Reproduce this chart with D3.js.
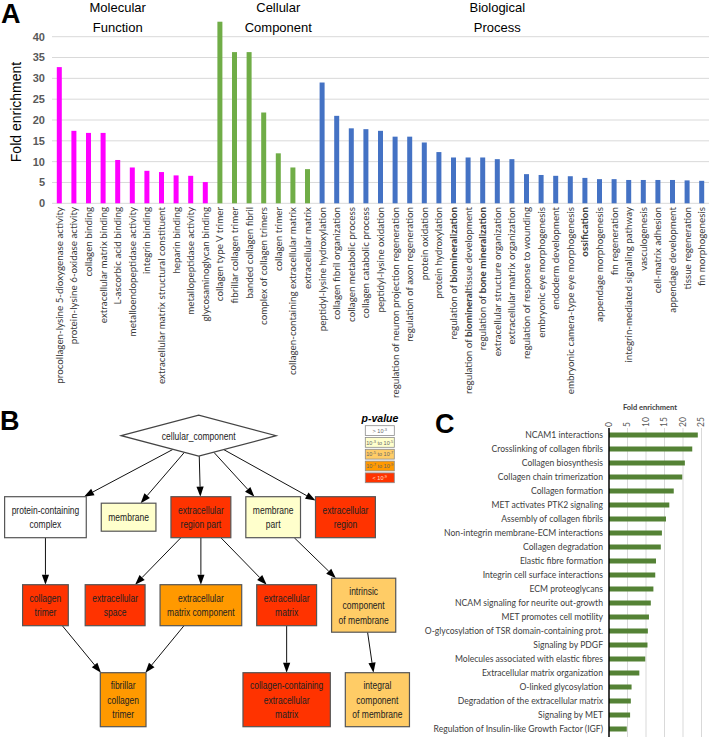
<!DOCTYPE html>
<html>
<head>
<meta charset="utf-8">
<script src="https://cdn.jsdelivr.net/npm/d3@7"></script>
<style>
  body { margin: 0; background: #fff; }
  svg { display: block; }
</style>
</head>
<body>
<svg id="chart" width="709" height="737"></svg>
<script>
// ---------- panel A : GO fold enrichment ----------
const mfTerms = ["procollagen-lysine 5-dioxygenase activity", "protein-lysine 6-oxidase activity", "collagen binding",
  "extracellular matrix binding", "L-ascorbic acid binding", "metalloendopeptidase activity", "integrin binding",
  "extracellular matrix structural constituent", "heparin binding", "metallopeptidase activity", "glycosaminoglycan binding"];
const mfValues = [32.7, 17.4, 16.9, 16.9, 10.4, 8.6, 7.8, 7.5, 6.7, 6.6, 5.1];

const ccTerms = ["collagen type V trimer", "fibrillar collagen trimer", "banded collagen fibril", "complex of collagen trimers",
  "collagen trimer", "collagen-containing extracellular matrix", "extracellular matrix"];
const ccValues = [43.6, 36.3, 36.3, 21.8, 12.0, 8.6, 8.2];

// **x** marks bold text
const bpTerms = ["peptidyl-lysine hydroxylation", "collagen fibril organization", "collagen metabolic process",
  "collagen catabolic process", "peptidyl-lysine oxidation", "regulation of neuron projection regeneration",
  "regulation of axon regeneration", "protein oxidation", "protein hydroxylation", "regulation of **biomineralization**",
  "regulation of **biomineral**tissue development", "regulation of **bone mineralization**",
  "extracellular structure organization", "extracellular matrix organization", "regulation of response to wounding",
  "embryonic eye morphogenesis", "endoderm development", "embryonic camera-type eye morphogenesis", "**ossification**",
  "appendage morphogenesis", "fin regeneration", "integrin-mediated signaling pathway", "vasculogenesis",
  "cell-matrix adhesion", "appendage development", "tissue regeneration", "fin morphogenesis"];
const bpValues = [29.0, 21.0, 18.0, 17.8, 17.4, 16.0, 16.0, 14.6, 12.3, 11.0, 11.0, 11.0, 10.6, 10.6,
  7.0, 6.8, 6.6, 6.5, 6.1, 5.8, 5.8, 5.6, 5.6, 5.6, 5.6, 5.5, 5.4];

const yTicksA = [0, 5, 10, 15, 20, 25, 30, 35, 40];

// ---------- panel B : GO cellular component graph ----------
const pClasses = ["> 10^-3", "10^-3 to 10^-5", "10^-5 to 10^-7", "10^-7 to 10^-9", "< 10^-9"];
const goNodes = [
  {id: "cc", label: ["cellular_component"], p: -1},
  {id: "pcc", label: ["protein-containing", "complex"], p: 0},
  {id: "mem", label: ["membrane"], p: 1},
  {id: "erp", label: ["extracellular", "region part"], p: 4},
  {id: "mp", label: ["membrane", "part"], p: 1},
  {id: "er", label: ["extracellular", "region"], p: 4},
  {id: "ct", label: ["collagen", "trimer"], p: 4},
  {id: "es", label: ["extracellular", "space"], p: 4},
  {id: "emc", label: ["extracellular", "matrix component"], p: 3},
  {id: "em", label: ["extracellular", "matrix"], p: 4},
  {id: "icm", label: ["intrinsic", "component", "of membrane"], p: 2},
  {id: "fct", label: ["fibrillar", "collagen", "trimer"], p: 3},
  {id: "cce", label: ["collagen-containing", "extracellular", "matrix"], p: 4},
  {id: "integ", label: ["integral", "component", "of membrane"], p: 2}
];
const goEdges = [["cc", "pcc"], ["cc", "mem"], ["cc", "erp"], ["cc", "mp"], ["cc", "er"],
  ["pcc", "ct"], ["erp", "es"], ["erp", "emc"], ["erp", "em"], ["mp", "icm"],
  ["ct", "fct"], ["emc", "fct"], ["em", "cce"], ["icm", "integ"]];
const goRanks = [["cc"], ["pcc", "mem", "erp", "mp", "er"], ["ct", "es", "emc", "em", "icm"], ["fct", "cce", "integ"]];

// ---------- panel C : Reactome pathways ----------
const reactomeTerms = ["NCAM1 interactions", "Crosslinking of collagen fibrils", "Collagen biosynthesis",
  "Collagen chain trimerization", "Collagen formation", "MET activates PTK2 signaling", "Assembly of collagen fibrils",
  "Non-integrin membrane-ECM interactions", "Collagen degradation", "Elastic fibre formation",
  "Integrin cell surface interactions", "ECM proteoglycans", "NCAM signaling for neurite out-growth",
  "MET promotes cell motility", "O-glycosylation of TSR domain-containing prot.", "Signaling by PDGF",
  "Molecules associated with elastic fibres", "Extracellular matrix organization", "O-linked glycosylation",
  "Degradation of the extracellular matrix", "Signaling by MET", "Regulation of Insulin-like Growth Factor (IGF)"];
const reactomeValues = [24.0, 22.5, 20.5, 19.8, 17.5, 16.3, 15.4, 14.3, 14.0, 12.7, 12.5, 12.0, 11.3, 10.8,
  10.5, 10.4, 9.8, 8.2, 6.1, 5.9, 5.7, 4.8];
const xTicksC = [0, 5, 10, 15, 20, 25];

// ---------- drawing ----------
const svg = d3.select("#chart");
const sans = "'Liberation Sans', Arial, sans-serif";
const soft = "Lato, 'Open Sans', sans-serif";
const squeeze = 0.74;   // narrow look of the graphviz font
const pColors = ["#ffffff", "#ffffcc", "#ffcc66", "#ff9900", "#ff3300"];

function panelLetter(t, x, y) {
  svg.append("text").attr("x", x).attr("y", y).text(t)
    .style("font", `bold 27px ${sans}`).attr("fill", "#000");
}

// ===== A =====
const groupsA = [
  {title: ["Molecular", "Function"], terms: mfTerms, values: mfValues, color: "#ff00ff", titleAt: 4},
  {title: ["Cellular", "Component"], terms: ccTerms, values: ccValues, color: "#70ad47", titleAt: 4},
  {title: ["Biological", "Process"], terms: bpTerms, values: bpValues, color: "#4472c4", titleAt: 12}
];
const barsA = [];
groupsA.forEach(g => {
  g.start = barsA.length;
  g.terms.forEach((t, i) => barsA.push({term: t, value: g.values[i], color: g.color}));
});

const xA = d3.scaleBand().domain(d3.range(barsA.length)).range([52, 709]);
const yA = d3.scaleLinear().domain([0, 40]).range([203.3, 36.7]);
const cx = i => xA(i) + xA.bandwidth() / 2;

const gA = svg.append("g");
gA.selectAll("line.grid").data(yTicksA).join("line")
  .attr("x1", 52).attr("x2", 709)
  .attr("y1", d => yA(d)).attr("y2", d => yA(d))
  .attr("stroke", "#d9d9d9").attr("stroke-width", 1);

gA.selectAll("text.ytick").data(yTicksA).join("text")
  .attr("x", 45).attr("y", d => yA(d)).attr("dy", "0.35em")
  .attr("text-anchor", "end").attr("fill", "#595959")
  .style("font", `bold 11px ${sans}`).text(d => d);

gA.append("text").attr("transform", "translate(21,112) rotate(-90)")
  .attr("text-anchor", "middle").style("font", `14px ${sans}`).text("Fold enrichment");

gA.selectAll("rect").data(barsA).join("rect")
  .attr("x", (d, i) => cx(i) - 2.5).attr("width", 5)
  .attr("y", d => yA(d.value)).attr("height", d => yA(0) - yA(d.value))
  .attr("fill", d => d.color);

const xl = gA.selectAll("text.xl").data(barsA).join("text")
  .attr("transform", (d, i) => `translate(${cx(i)},207) rotate(-90)`)
  .attr("text-anchor", "end").attr("dy", "0.35em")
  .attr("fill", "#3a3a3a").style("font", `9.8px ${soft}`);
xl.each(function (d) {
  const parts = d.term.split("**");
  parts.forEach((p, k) => {
    if (!p) return;
    d3.select(this).append("tspan").text(p).attr("font-weight", k % 2 ? "bold" : null);
  });
});

groupsA.forEach(g => {
  const x = cx(g.start + g.titleAt);
  g.title.forEach((t, k) => {
    gA.append("text").attr("x", x).attr("y", k ? 32 : 11.5)
      .attr("text-anchor", "middle").style("font", `13px ${sans}`).text(t);
  });
});
panelLetter("A", 1, 23);

// ===== B =====
const gB = svg.append("g");
const meas = gB.append("text").style("font", `11.5px ${sans}`);
const tw = s => meas.text(s).node().getComputedTextLength() * squeeze;
const nodes = goNodes.map(n => Object.assign({}, n));
const byId = new Map(nodes.map(n => [n.id, n]));
nodes.forEach(n => {
  const w = d3.max(n.label, tw);
  if (n.p < 0) { n.w = w * 2.1; n.h = 41; }
  else { n.w = w + 14; n.h = n.label.length * 13 + 15; }
  n.parents = goEdges.filter(e => e[1] === n.id).map(e => e[0]);
  n.children = goEdges.filter(e => e[0] === n.id).map(e => e[1]);
});
meas.remove();

// rank layout: ranks stacked with a fixed gap, siblings packed side by side under their parents
const rankGap = 40.5, nodeGap = 15;
let prevBottom = null;
goRanks.forEach((rank, r) => {
  const rn = rank.map(id => byId.get(id));
  const maxH = d3.max(rn, n => n.h);
  const cy = r === 0 ? 435.7 : prevBottom + rankGap + maxH / 2;
  rn.forEach(n => n.y = cy);
  prevBottom = cy + maxH / 2;
  if (r === 0) { rn.forEach(n => n.x = 190); return; }
  const blocks = [];
  rn.forEach(n => {
    const key = n.parents.join(",");
    const last = blocks[blocks.length - 1];
    if (last && last.key === key) last.items.push(n); else blocks.push({key, items: [n]});
  });
  let right = -Infinity;
  blocks.forEach(b => {
    const total = d3.sum(b.items, n => n.w) + nodeGap * (b.items.length - 1);
    const want = d3.mean(b.items[0].parents, p => byId.get(p).x);
    let left = Math.max(want - total / 2, right + nodeGap);
    b.items.forEach(n => { n.x = left + n.w / 2; left += n.w + nodeGap; });
    right = left - nodeGap;
  });
});
const root = byId.get("cc");
root.x = d3.mean(root.children, c => byId.get(c).x);

function clip(n, ux, uy) {
  if (n.p < 0) return 1 / (Math.abs(ux) / (n.w / 2) + Math.abs(uy) / (n.h / 2));
  return Math.min(Math.abs(ux) > 1e-6 ? (n.w / 2) / Math.abs(ux) : Infinity,
                  Math.abs(uy) > 1e-6 ? (n.h / 2) / Math.abs(uy) : Infinity);
}
goEdges.forEach(([a, b]) => {
  const s = byId.get(a), t = byId.get(b);
  const dx = t.x - s.x, dy = t.y - s.y, len = Math.hypot(dx, dy);
  const ux = dx / len, uy = dy / len;
  const cs = clip(s, ux, uy), ct = clip(t, ux, uy);
  const x0 = s.x + ux * cs, y0 = s.y + uy * cs;
  const tx = t.x - ux * ct, ty = t.y - uy * ct;
  const bx = tx - ux * 10, by = ty - uy * 10;
  gB.append("line").attr("x1", x0).attr("y1", y0).attr("x2", bx).attr("y2", by)
    .attr("stroke", "#111").attr("stroke-width", 1);
  gB.append("path")
    .attr("d", `M${tx},${ty}L${bx - uy * 3.6},${by + ux * 3.6}L${bx + uy * 3.6},${by - ux * 3.6}Z`)
    .attr("fill", "#000");
});

const nodeG = gB.selectAll("g.node").data(nodes).join("g")
  .attr("transform", d => `translate(${d.x},${d.y})`);
nodeG.filter(d => d.p < 0).append("path")
  .attr("d", d => `M${-d.w / 2},0L0,${-d.h / 2}L${d.w / 2},0L0,${d.h / 2}Z`)
  .attr("fill", "#fff").attr("stroke", "#444").attr("stroke-width", 1.2);
nodeG.filter(d => d.p >= 0).append("rect")
  .attr("x", d => -d.w / 2).attr("y", d => -d.h / 2)
  .attr("width", d => d.w).attr("height", d => d.h)
  .attr("fill", d => pColors[d.p]).attr("stroke", "#555").attr("stroke-width", 1.2);
nodeG.each(function (d) {
  const L = d.label.length;
  d3.select(this).selectAll("text").data(d.label).join("text")
    .attr("transform", (t, i) => `translate(0,${(i - (L - 1) / 2) * 14.3}) scale(${squeeze},1)`)
    .attr("dy", "0.35em")
    .attr("text-anchor", "middle").attr("fill", "#222")
    .style("font", `11.5px ${sans}`).text(t => t);
});

// p-value legend
const gL = gB.append("g");
gL.append("text").attr("x", 380).attr("y", 421.5).attr("text-anchor", "middle")
  .style("font", `italic bold 10.5px ${sans}`).text("p-value");
pClasses.forEach((c, i) => {
  const y = 425.7 + i * 11.8;
  gL.append("rect").attr("x", 365.3).attr("y", y).attr("width", 29).attr("height", 9.8)
    .attr("fill", pColors[i]).attr("stroke", "#8c8c8c").attr("stroke-width", 0.8);
  const t = gL.append("text").attr("x", 379.8).attr("y", y + 7)
    .attr("text-anchor", "middle").attr("fill", i === 4 ? "#ffe0d0" : "#666")
    .style("font", `5.5px ${sans}`);
  c.split(/\^(-?\d+)/).forEach((p, k) => {
    if (!p) return;
    if (k % 2) t.append("tspan").attr("dy", -2).attr("font-size", 4).text(p);
    else t.append("tspan").attr("dy", k ? 2 : 0).text(p);
  });
});
panelLetter("B", 0, 430);

// ===== C =====
const gC = svg.append("g");
const xC = d3.scaleLinear().domain([0, 25]).range([609, 701.5]);
const yC = d3.scaleBand().domain(reactomeTerms).range([428, 736]);

gC.selectAll("line.grid").data(xTicksC.slice(1)).join("line")
  .attr("x1", d => xC(d)).attr("x2", d => xC(d)).attr("y1", 428).attr("y2", 737)
  .attr("stroke", "#d9d9d9").attr("stroke-width", 1);
gC.selectAll("rect").data(reactomeTerms).join("rect")
  .attr("x", xC(0)).attr("width", (d, i) => xC(reactomeValues[i]) - xC(0))
  .attr("y", d => yC(d) + yC.bandwidth() / 2 - 2.5).attr("height", 5)
  .attr("fill", "#548235");
gC.append("line").attr("x1", xC(0)).attr("x2", xC(0)).attr("y1", 428).attr("y2", 737)
  .attr("stroke", "#000").attr("stroke-width", 1.5);
gC.selectAll("text.lab").data(reactomeTerms).join("text")
  .attr("x", 603).attr("y", d => yC(d) + yC.bandwidth() / 2).attr("dy", "0.35em")
  .attr("text-anchor", "end").attr("fill", "#404040")
  .style("font", `8.6px ${soft}`).text(d => d);
gC.selectAll("text.tick").data(xTicksC).join("text")
  .attr("transform", d => `translate(${xC(d)},427) rotate(-90)`).attr("dy", "0.35em")
  .attr("fill", "#595959").style("font", `8.5px ${soft}`).text(d => d);
gC.append("text").attr("x", 650).attr("y", 410).attr("text-anchor", "middle")
  .attr("fill", "#404040").style("font", `bold 7.5px ${soft}`).text("Fold enrichment");
panelLetter("C", 435, 433);
</script>
</body>
</html>
